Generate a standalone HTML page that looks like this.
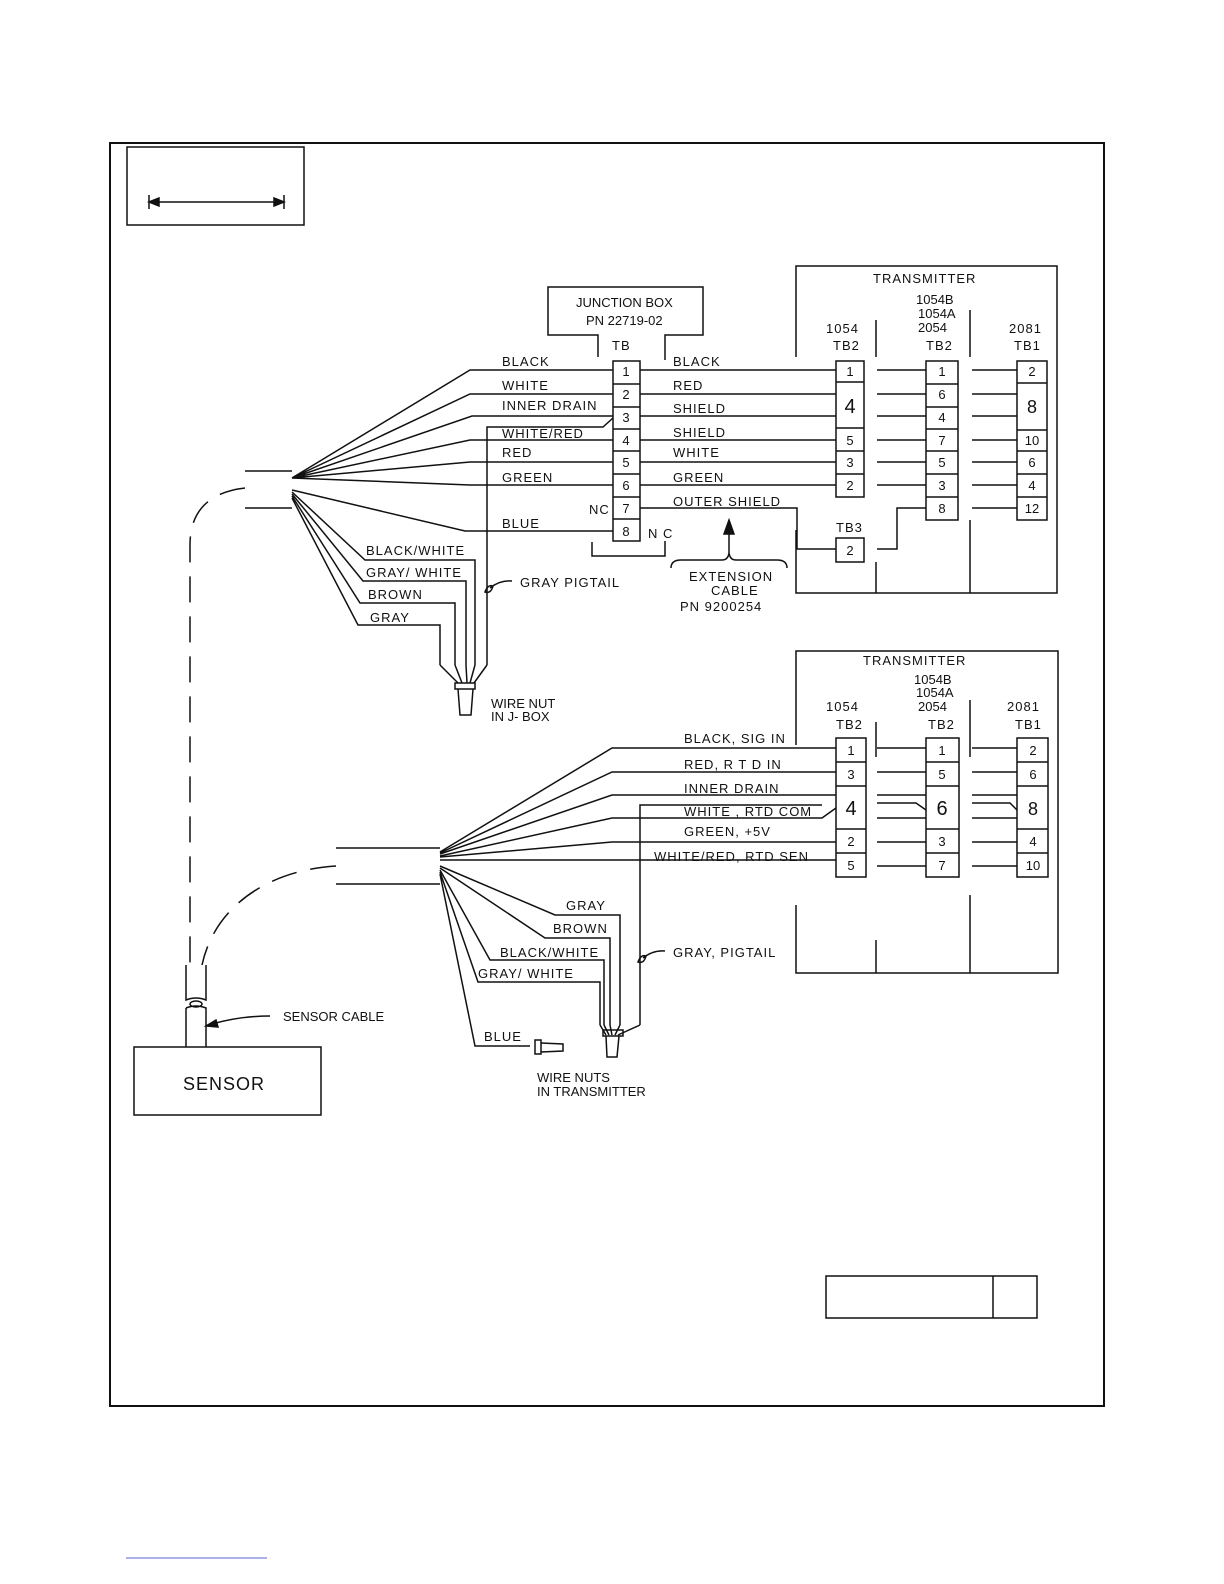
<!DOCTYPE html>
<html><head><meta charset="utf-8"><style>
html,body{margin:0;padding:0;background:#fff;overflow:hidden;width:1224px;height:1584px}
svg{display:block}
text{font-family:"Liberation Sans",sans-serif;font-size:13px;fill:#111;letter-spacing:1px}
.n{font-size:13px;text-anchor:middle;letter-spacing:0}
</style></head><body>
<svg width="1224" height="1584" viewBox="0 0 1224 1584" xmlns="http://www.w3.org/2000/svg" fill="none" stroke="#111" stroke-width="1.5">
<rect x="110" y="143" width="994" height="1263" stroke-width="2"/>
<rect x="127" y="147" width="177" height="78"/>
<line x1="149" y1="202" x2="284" y2="202"/><line x1="149" y1="195" x2="149" y2="209"/><line x1="284" y1="195" x2="284" y2="209"/>
<path d="M149 202 l10 -4 v8z M284 202 l-10 -4 v8z" fill="#111"/>

<!-- junction box -->
<path d="M598 357 V335 H548 V287 H703 V335 H665 V360"/>
<path d="M592 542 V556 H665 V541"/>
<g stroke="none"><text x="576" y="307" style="letter-spacing:0">JUNCTION BOX</text><text x="586" y="325" style="letter-spacing:0">PN 22719-02</text><text x="612" y="350">TB</text></g>
<rect x="613" y="361" width="27" height="180"/>
<path d="M613 384H640M613 407H640M613 429H640M613 451H640M613 474H640M613 497H640M613 519H640"/>
<g class="n" stroke="none"><text class="n" x="626" y="376">1</text><text class="n" x="626" y="399">2</text><text class="n" x="626" y="422">3</text><text class="n" x="626" y="445">4</text><text class="n" x="626" y="467">5</text><text class="n" x="626" y="490">6</text><text class="n" x="626" y="513">7</text><text class="n" x="626" y="536">8</text></g>

<!-- top fan wires -->
<path d="M292 478 L470 370 H613 M292 478 L470 394 H613 M292 478 L472 416 H613 M292 478 L470 440 H613 M292 478 L470 462 H613 M292 478 L470 485 H613 M292 490 L465 531 H613"/>
<path d="M487 665 V427 H603 L613 418"/>
<path d="M245 471 H292 M245 508 H292"/>
<path d="M292 492 L365 560 H475 V665 M292 494 L363 581 H466 V665 M292 496 L360 603 H455 V665 M292 498 L358 625 H440 V665"/>
<path d="M440 665 L458 683 M455 665 L462 683 M466 665 L467 683 M475 665 L470 683 M487 665 L474 683"/>
<rect x="455" y="683" width="20" height="6"/><path d="M458 689 L460 715 H471 L473 689"/>
<path d="M485 592 q3 -8 8 -6 q-2 8 -8 6z M490 588 q10 -8 22 -7"/>
<g stroke="none">
<text x="502" y="366">BLACK</text><text x="502" y="390">WHITE</text><text x="502" y="410">INNER DRAIN</text><text x="502" y="438">WHITE/RED</text><text x="502" y="457">RED</text><text x="502" y="482">GREEN</text><text x="502" y="528">BLUE</text>
<text x="589" y="514">NC</text><text x="648" y="538">N C</text>
<text x="366" y="555">BLACK/WHITE</text><text x="366" y="577">GRAY/ WHITE</text><text x="368" y="599">BROWN</text><text x="370" y="622">GRAY</text>
<text x="520" y="587">GRAY  PIGTAIL</text>
<text x="491" y="708" style="letter-spacing:0">WIRE NUT</text><text x="491" y="721" style="letter-spacing:0">IN J- BOX</text>
<text x="673" y="366">BLACK</text><text x="673" y="390">RED</text><text x="673" y="413">SHIELD</text><text x="673" y="437">SHIELD</text><text x="673" y="457">WHITE</text><text x="673" y="482">GREEN</text><text x="673" y="506">OUTER SHIELD</text>
<text x="689" y="581">EXTENSION</text><text x="711" y="595">CABLE</text><text x="680" y="611">PN 9200254</text>
</g>
<path d="M671 568 q0 -8 10 -8 H722 q6 0 7 -7 q1 7 7 7 H777 q10 0 10 8"/>
<line x1="729" y1="553" x2="729" y2="530"/><path d="M729 520 l-5 14 h10z" fill="#111"/>

<!-- right side of top -->
<path d="M640 370 H836 M640 394 H836 M640 416 H836 M640 440 H836 M640 462 H836 M640 485 H836 M640 508 H797 V549 H836"/>
<rect x="836" y="361" width="28" height="136"/>
<path d="M836 382H864M836 428H864M836 451H864M836 474H864"/>
<rect x="836" y="538" width="28" height="24"/>
<path d="M877 370H926M877 394H926M877 416H926M877 440H926M877 462H926M877 485H926M877 549H897V508H926"/>
<rect x="926" y="361" width="32" height="159"/>
<path d="M926 384H958M926 407H958M926 429H958M926 451H958M926 474H958M926 497H958"/>
<path d="M972 370H1017M972 394H1017M972 416H1017M972 440H1017M972 462H1017M972 485H1017M972 508H1017"/>
<rect x="1017" y="361" width="30" height="159"/>
<path d="M1017 383H1047M1017 430H1047M1017 451H1047M1017 474H1047M1017 497H1047"/>
<path d="M796 357 V266 H1057 V593 H796 V530 M876 320 V357 M876 562 V593 M970 310 V357 M970 520 V593"/>
<g stroke="none">
<text x="873" y="283">TRANSMITTER</text>
<text x="916" y="304" style="letter-spacing:0">1054B</text><text x="918" y="318" style="letter-spacing:0">1054A</text><text x="918" y="332" style="letter-spacing:0">2054</text><text x="926" y="350">TB2</text>
<text x="826" y="333">1054</text><text x="833" y="350">TB2</text>
<text x="1009" y="333">2081</text><text x="1014" y="350">TB1</text>
<text x="836" y="532">TB3</text>
<text class="n" x="850" y="376">1</text><text class="n" x="850" y="413" style="font-size:20px">4</text><text class="n" x="850" y="445">5</text><text class="n" x="850" y="467">3</text><text class="n" x="850" y="490">2</text><text class="n" x="850" y="555">2</text>
<text class="n" x="942" y="376">1</text><text class="n" x="942" y="399">6</text><text class="n" x="942" y="422">4</text><text class="n" x="942" y="445">7</text><text class="n" x="942" y="467">5</text><text class="n" x="942" y="490">3</text><text class="n" x="942" y="513">8</text>
<text class="n" x="1032" y="376">2</text><text class="n" x="1032" y="413" style="font-size:18px">8</text><text class="n" x="1032" y="445">10</text><text class="n" x="1032" y="467">6</text><text class="n" x="1032" y="490">4</text><text class="n" x="1032" y="513">12</text>
</g>

<!-- dashed sensor cable -->
<path d="M245 488 C210 492 190 510 190 545 V965" stroke-dasharray="26 14"/>
<path d="M336 866 C270 870 215 905 202 965" stroke-dasharray="26 14"/>

<!-- bottom section -->
<path d="M336 848 H440 M336 884 H440"/>
<path d="M440 852 L612 748 H836 M440 853 L612 772 H836 M440 854 L612 795 H836 M440 856 L612 818 H822 L836 808 M440 857 L612 842 H836 M440 860 H836"/>
<path d="M640 1025 V805 H822"/>
<path d="M440 866 L555 915 H620 V1025 M440 868 L545 938 H610 V1025 M440 870 L490 960 H604 V1025 M440 872 L478 982 H600 V1025 M440 874 L475 1046 H530"/>
<path d="M600 1025 L606 1035 M604 1025 L609 1035 M610 1025 L612 1035 M620 1025 L615 1035 M640 1025 L618 1035"/>
<rect x="603" y="1030" width="20" height="6"/><path d="M606 1036 L607 1057 H617 L619 1036"/>
<rect x="535" y="1040" width="6" height="14"/><path d="M541 1043 L563 1044 V1051 L541 1052"/>
<path d="M638 962 q3 -8 8 -6 q-2 8 -8 6z M643 958 q10 -8 22 -7"/>
<g stroke="none">
<text x="684" y="743">BLACK, SIG IN</text><text x="684" y="769">RED, R T D  IN</text><text x="684" y="793">INNER DRAIN</text><text x="684" y="816">WHITE , RTD COM</text><text x="684" y="836">GREEN, +5V</text><text x="654" y="861">WHITE/RED, RTD SEN</text>
<text x="566" y="910">GRAY</text><text x="553" y="933">BROWN</text><text x="500" y="957">BLACK/WHITE</text><text x="478" y="978">GRAY/ WHITE</text><text x="484" y="1041">BLUE</text>
<text x="673" y="957">GRAY, PIGTAIL</text>
<text x="537" y="1082" style="letter-spacing:0">WIRE NUTS</text><text x="537" y="1096" style="letter-spacing:0">IN TRANSMITTER</text>
<text x="863" y="665">TRANSMITTER</text>
<text x="914" y="684" style="letter-spacing:0">1054B</text><text x="916" y="697" style="letter-spacing:0">1054A</text><text x="918" y="711" style="letter-spacing:0">2054</text><text x="928" y="729">TB2</text>
<text x="826" y="711">1054</text><text x="836" y="729">TB2</text>
<text x="1007" y="711">2081</text><text x="1015" y="729">TB1</text>
</g>
<path d="M877 748H926M877 772H926M877 795H926M877 803H916L926 810M877 818H926M877 842H926M877 866H926"/>
<path d="M972 748H1017M972 772H1017M972 795H1017M972 803H1010L1017 810M972 818H1017M972 842H1017M972 866H1017"/>
<rect x="836" y="738" width="30" height="139"/><path d="M836 762H866M836 786H866M836 829H866M836 853H866"/>
<rect x="926" y="738" width="33" height="139"/><path d="M926 762H959M926 786H959M926 829H959M926 853H959"/>
<rect x="1017" y="738" width="31" height="139"/><path d="M1017 762H1048M1017 786H1048M1017 829H1048M1017 853H1048"/>
<path d="M796 745 V651 H1058 V973 H796 V905 M876 722 V757 M876 940 V973 M970 700 V757 M970 895 V973"/>
<g stroke="none">
<text class="n" x="851" y="755">1</text><text class="n" x="851" y="779">3</text><text class="n" x="851" y="815" style="font-size:20px">4</text><text class="n" x="851" y="846">2</text><text class="n" x="851" y="870">5</text>
<text class="n" x="942" y="755">1</text><text class="n" x="942" y="779">5</text><text class="n" x="942" y="815" style="font-size:20px">6</text><text class="n" x="942" y="846">3</text><text class="n" x="942" y="870">7</text>
<text class="n" x="1033" y="755">2</text><text class="n" x="1033" y="779">6</text><text class="n" x="1033" y="815" style="font-size:18px">8</text><text class="n" x="1033" y="846">4</text><text class="n" x="1033" y="870">10</text>
</g>

<!-- sensor -->
<path d="M186 965 V1000 Q196 996 206 1000 V965"/>
<path d="M186 1008 Q196 1004 206 1008 V1047 M186 1008 V1047"/>
<ellipse cx="196" cy="1004" rx="6" ry="3"/>
<path d="M270 1016 Q240 1016 212 1024"/><path d="M206 1026 l10 -6 l2 7z" fill="#111"/>
<rect x="134" y="1047" width="187" height="68"/>
<g stroke="none"><text x="283" y="1021" style="letter-spacing:0">SENSOR CABLE</text><text x="183" y="1090" style="font-size:18px">SENSOR</text></g>

<rect x="826" y="1276" width="211" height="42"/><line x1="993" y1="1276" x2="993" y2="1318"/>
<line x1="126" y1="1558" x2="267" y2="1558" stroke="#5566cc" stroke-width="1"/>
</svg>
</body></html>
